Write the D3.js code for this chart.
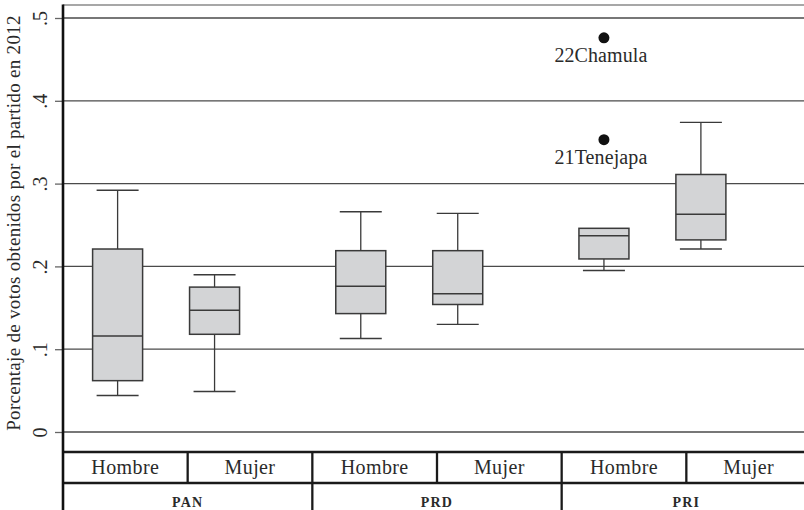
<!DOCTYPE html>
<html><head><meta charset="utf-8">
<script src="https://cdn.jsdelivr.net/npm/d3@7"></script>
<style>
body{margin:0;background:#fff;}
svg{display:block;}
text{font-family:"Liberation Serif","DejaVu Serif",serif;fill:#2a2a2a;}
</style></head>
<body><svg id="chart" width="804" height="510"></svg>
<script>
const parties = ["PAN","PRD","PRI"];
const sexes = ["Hombre","Mujer"];
const groupParty = ["PAN","PAN","PRD","PRD","PRI","PRI"];
const groupSex = ["Hombre","Mujer","Hombre","Mujer","Hombre","Mujer"];
const whiskerLo = [0.044, 0.049, 0.113, 0.130, 0.195, 0.221];
const q1 =        [0.062, 0.118, 0.143, 0.154, 0.209, 0.232];
const median =    [0.116, 0.147, 0.176, 0.167, 0.237, 0.263];
const q3 =        [0.221, 0.175, 0.219, 0.219, 0.246, 0.311];
const whiskerHi = [0.292, 0.190, 0.266, 0.264, 0.246, 0.374];
const outlierParty = ["PRI","PRI"];
const outlierSex = ["Hombre","Hombre"];
const outlierValue = [0.476, 0.353];
const outlierLabel = ["22Chamula","21Tenejapa"];
const yTicks = [0, 0.1, 0.2, 0.3, 0.4, 0.5];
const yTickLabels = ["0", ".1", ".2", ".3", ".4", ".5"];
const yTitle = "Porcentaje de votos obtenidos por el partido en 2012";

const W = 804, H = 510;
const pLeft = 63, pTop = 5, pRight = 804;
const svg = d3.select("#chart");

const y = d3.scaleLinear().domain([0, 0.5]).range([432, 18]);
const xParty = d3.scaleBand().domain(parties).range([44.5, 774]).padding(0);
const xSex = d3.scalePoint().domain(sexes).range([0, xParty.bandwidth()]).padding(0.754);
const boxW = 50, capW = 42;
const cx = (p, s) => xParty(p) + xSex(s);

const tParty = d3.scaleBand().domain(parties).range([pLeft, 811]);
const tSex = d3.scaleBand().domain(sexes).range([0, tParty.bandwidth()]);

svg.append("line").attr("x1", pLeft).attr("x2", pRight).attr("y1", pTop).attr("y2", pTop)
  .attr("stroke", "#8a8a8a").attr("stroke-width", 1.5);

svg.append("g").selectAll("line").data(yTicks).join("line")
  .attr("x1", pLeft).attr("x2", pRight)
  .attr("y1", d => y(d)).attr("y2", d => y(d))
  .attr("stroke", "#4a4a4a").attr("stroke-width", 1.3);

const yAxis = svg.append("g").attr("transform", `translate(${pLeft},0)`)
  .call(d3.axisLeft(y).tickValues(yTicks).tickFormat((d, i) => yTickLabels[i]).tickSize(8).tickSizeOuter(0));
yAxis.select(".domain").remove();
yAxis.selectAll(".tick line").attr("stroke", "#666").attr("stroke-width", 1.3);
yAxis.selectAll(".tick text")
  .attr("x", null).attr("dy", null).attr("y", 0)
  .attr("transform", "translate(-16.5,0) rotate(-90)")
  .attr("text-anchor", "middle")
  .style("font-size", "20px").style("font-family", '"Liberation Serif",serif').attr("fill", "#2a2a2a");

svg.append("text")
  .attr("transform", `translate(20,223) rotate(-90)`)
  .attr("text-anchor", "middle")
  .style("font-size", "19px").style("letter-spacing", "0.3px")
  .text(yTitle);

const groups = groupParty.map((p, i) => ({p, s: groupSex[i], lo: whiskerLo[i], q1: q1[i], med: median[i], q3: q3[i], hi: whiskerHi[i]}));
const g = svg.append("g");
groups.forEach(d => {
  const c = cx(d.p, d.s);
  const stroke = "#3a3a3a";
  if (d.hi > d.q3) {
    g.append("line").attr("x1", c).attr("x2", c).attr("y1", y(d.q3)).attr("y2", y(d.hi)).attr("stroke", stroke).attr("stroke-width", 1.3);
    g.append("line").attr("x1", c - capW/2).attr("x2", c + capW/2).attr("y1", y(d.hi)).attr("y2", y(d.hi)).attr("stroke", stroke).attr("stroke-width", 1.4);
  }
  g.append("line").attr("x1", c).attr("x2", c).attr("y1", y(d.q1)).attr("y2", y(d.lo)).attr("stroke", stroke).attr("stroke-width", 1.3);
  g.append("line").attr("x1", c - capW/2).attr("x2", c + capW/2).attr("y1", y(d.lo)).attr("y2", y(d.lo)).attr("stroke", stroke).attr("stroke-width", 1.4);
  g.append("rect").attr("x", c - boxW/2).attr("width", boxW)
    .attr("y", y(d.q3)).attr("height", y(d.q1) - y(d.q3))
    .attr("fill", "#d3d4d6").attr("stroke", stroke).attr("stroke-width", 1.5);
  g.append("line").attr("x1", c - boxW/2).attr("x2", c + boxW/2).attr("y1", y(d.med)).attr("y2", y(d.med)).attr("stroke", stroke).attr("stroke-width", 1.5);
});

outlierValue.forEach((v, i) => {
  const c = cx(outlierParty[i], outlierSex[i]);
  svg.append("circle").attr("cx", c).attr("cy", y(v)).attr("r", 5.5).attr("fill", "#111");
  svg.append("text").attr("x", c - 3).attr("y", y(v) + 24.5).attr("text-anchor", "middle")
    .style("font-size", "20px").style("letter-spacing", "0.1px").text(outlierLabel[i]);
});

const tbl = svg.append("g");
const lineCol = "#1a1a1a";
[452, 483].forEach(yy => tbl.append("line").attr("x1", pLeft).attr("x2", pRight).attr("y1", yy).attr("y2", yy).attr("stroke", lineCol).attr("stroke-width", 2.5));
parties.forEach((p, pi) => {
  sexes.forEach((s, si) => {
    const x0 = tParty(p) + tSex(s);
    if (!(pi === 0 && si === 0)) {
      tbl.append("line").attr("x1", x0).attr("x2", x0).attr("y1", 452).attr("y2", si === 0 ? H : 483)
        .attr("stroke", lineCol).attr("stroke-width", 2.3);
    }
    tbl.append("text").attr("x", x0 + tSex.bandwidth()/2).attr("y", 474).attr("text-anchor", "middle")
      .style("font-size", "20px").style("letter-spacing", "0.4px").text(s);
  });
  tbl.append("text").attr("x", tParty(p) + tParty.bandwidth()/2).attr("y", 506.5).attr("text-anchor", "middle")
    .style("font-size", "14px").style("font-weight", "bold").style("letter-spacing", "1.2px").text(p);
});

svg.append("line").attr("x1", pLeft).attr("x2", pLeft).attr("y1", pTop - 0.5).attr("y2", H)
  .attr("stroke", "#111").attr("stroke-width", 2.6);
</script></body></html>
